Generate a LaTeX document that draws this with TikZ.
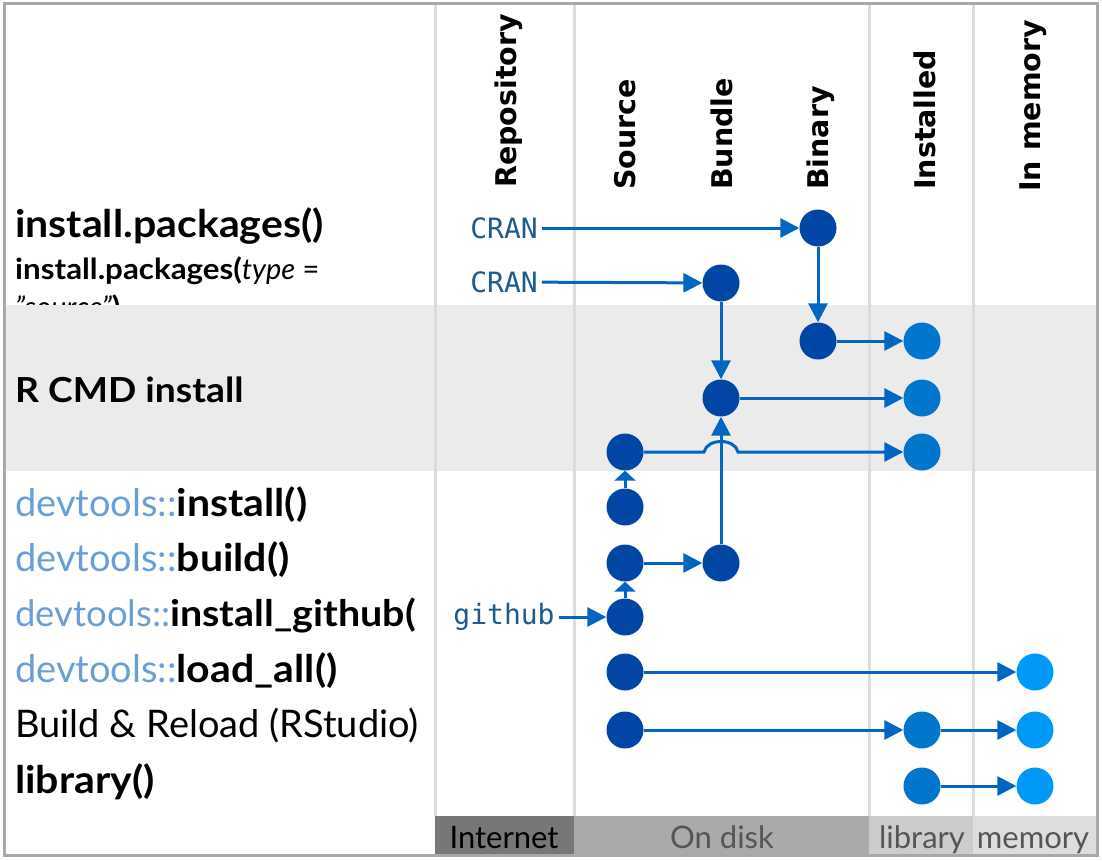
\documentclass[tikz,border=0pt]{standalone}
\usepackage{fontspec}
\setmainfont{Lato}[BoldFeatures={FakeStretch=1.08}]
\newfontfamily\headfont{DejaVu Sans}
\newfontfamily\codefont{DejaVu Sans Mono}
\usetikzlibrary{arrows.meta}
\definecolor{arrc}{HTML}{0066C2}
\definecolor{dkc}{HTML}{0047A5}
\definecolor{instc}{HTML}{0077CC}
\definecolor{memc}{HTML}{0099F8}
\definecolor{devc}{HTML}{6A9FD6}
\definecolor{codec}{HTML}{1E5A8C}
\definecolor{bandc}{HTML}{EBEBEB}
\definecolor{divc}{HTML}{DCDCDC}
\definecolor{borderc}{HTML}{A8A8A8}
\definecolor{netc}{HTML}{777777}
\definecolor{diskc}{HTML}{AAAAAA}
\definecolor{libc}{HTML}{CCCCCC}
\definecolor{memboxc}{HTML}{DDDDDD}
\definecolor{labc}{HTML}{555555}
\begin{document}
\begin{tikzpicture}[x=1pt,y=-1pt,
  dot/.style={circle,minimum size=37pt,inner sep=0pt,draw=none},
  dk/.style={dot,fill=dkc},
  inst/.style={dot,fill=instc},
  mem/.style={dot,fill=memc},
  arr/.style={draw=arrc,line width=3pt,-{Triangle[length=19pt,width=19pt]}},
  arrs/.style={draw=arrc,line width=3pt,-{Triangle[length=10pt,width=21pt]}},
  head/.style={rotate=90,anchor=base west,inner sep=0pt,font=\headfont\bfseries\fontsize{28.5}{30}\selectfont},
  big/.style={anchor=base west,inner sep=0pt,font=\fontsize{38}{42}\selectfont},
  mid/.style={anchor=base west,inner sep=0pt,font=\fontsize{29}{32}\selectfont},
  code/.style={inner sep=4pt,text=codec,font=\codefont\fontsize{28}{30}\selectfont},
  bot/.style={anchor=base,inner sep=0pt,font=\fontsize{31}{33}\selectfont},
  divider/.style={draw=divc,line width=3pt}
]
\useasboundingbox (0,0) rectangle (1102,861);
\fill[white] (0,0) rectangle (1102,861);

% clipped third line, under band
\node[mid] (t2b) at (15,317) {\textit{"source"}\textbf{)}};

% band
\fill[bandc] (4,305) rectangle (1097,471);

% dividers
\foreach \x in {435,574,869,973} \draw[divider] (\x,4) -- (\x,816);

% bottom bar
\fill[netc] (435,816) rectangle (574,855);
\fill[diskc] (574,816) rectangle (869,855);
\fill[libc] (869,816) rectangle (973,855);
\fill[memboxc] (973,816) rectangle (1097,855);
\node[bot,text=black] (bnet) at (504,848) {Internet};
\node[bot,text=labc] (bdisk) at (722,848) {On disk};
\node[bot,text=labc] (blib) at (922,848) {library};
\node[bot,text=labc] (bmem) at (1033,848) {memory};

% border
\draw[draw=borderc,line width=3pt] (4,4) rectangle (1097,855);

% headers
\node[head] (hrep) at (516,188) {Repository};
\node[head] (hsrc) at (635,190) {Source};
\node[head] (hbun) at (732,190) {Bundle};
\node[head] (hbin) at (828,190) {Binary};
\node[head] (hins) at (935,190) {Installed};
\node[head] (hmem) at (1040,192) {In memory};

% left labels
\node[big] (l1) at (15,237) {\bfseries install.packages()};
\node[mid] (l2) at (15,279) {\textbf{install.packages(}\textit{type} =};
\node[big,font=\fontsize{34.5}{38}\selectfont] (l3) at (15,402) {\bfseries R CMD install};
\node[big] (l4) at (15,516) {\textcolor{devc}{devtools::}\textbf{install()}};
\node[big] (l5) at (15,571) {\textcolor{devc}{devtools::}\textbf{build()}};
\node[big,font=\fontsize{36.5}{40}\selectfont] (l6) at (15,626) {\textcolor{devc}{devtools::}\textbf{install\_github(}};
\node[big] (l7) at (15,682) {\textcolor{devc}{devtools::}\textbf{load\_all()}};
\node[big] (l8) at (15,737) {Build \& Reload (RStudio)};
\node[big] (l9) at (15,793) {\bfseries library()};

% code labels
\node[code] (cran1) at (504,228) {CRAN};
\node[code] (cran2) at (504,282) {CRAN};
\node[code] (gh) at (504,617) {github};

% circles
\node[dk] (bin1) at (818,228) {};
\node[dk] (bun1) at (721,283) {};
\node[dk] (bin2) at (818,341) {};
\node[inst] (in1) at (922,341) {};
\node[dk] (bun2) at (721,398) {};
\node[inst] (in2) at (922,398) {};
\node[dk] (s1) at (625,452) {};
\node[inst] (in3) at (922,452) {};
\node[dk] (s2) at (625,507) {};
\node[dk] (s3) at (625,563) {};
\node[dk] (bun3) at (721,563) {};
\node[dk] (s4) at (625,617) {};
\node[dk] (s5) at (625,672) {};
\node[mem] (m1) at (1035,672) {};
\node[dk] (s6) at (625,730) {};
\node[inst] (in4) at (922,730) {};
\node[mem] (m2) at (1035,730) {};
\node[inst] (in5) at (922,786) {};
\node[mem] (m3) at (1035,786) {};

\coordinate (hA) at (704,452);
\coordinate (hB) at (738,452);

% arrows
\draw[arr] (cran1) -- (bin1);
\draw[arr] (bin1) -- (bin2);
\draw[arr] (cran2) -- (bun1);
\draw[arr] (bun1) -- (bun2);
\draw[arr] (bin2) -- (in1);
\draw[arr] (bun2) -- (in2);
\draw[arr] (s1) -- (hA) .. controls (707,438) and (735,438) .. (hB) -- (in3);
\draw[arrs] (s2) -- (s1);
\draw[arr] (s3) -- (bun3);
\draw[arr] (bun3) -- (bun2);
\draw[arrs] (s4) -- (s3);
\draw[arr] (gh) -- (s4);
\draw[arr] (s5) -- (m1);
\draw[arr] (s6) -- (in4);
\draw[arr] (in4) -- (m2);
\draw[arr] (in5) -- (m3);
\end{tikzpicture}
\end{document}
